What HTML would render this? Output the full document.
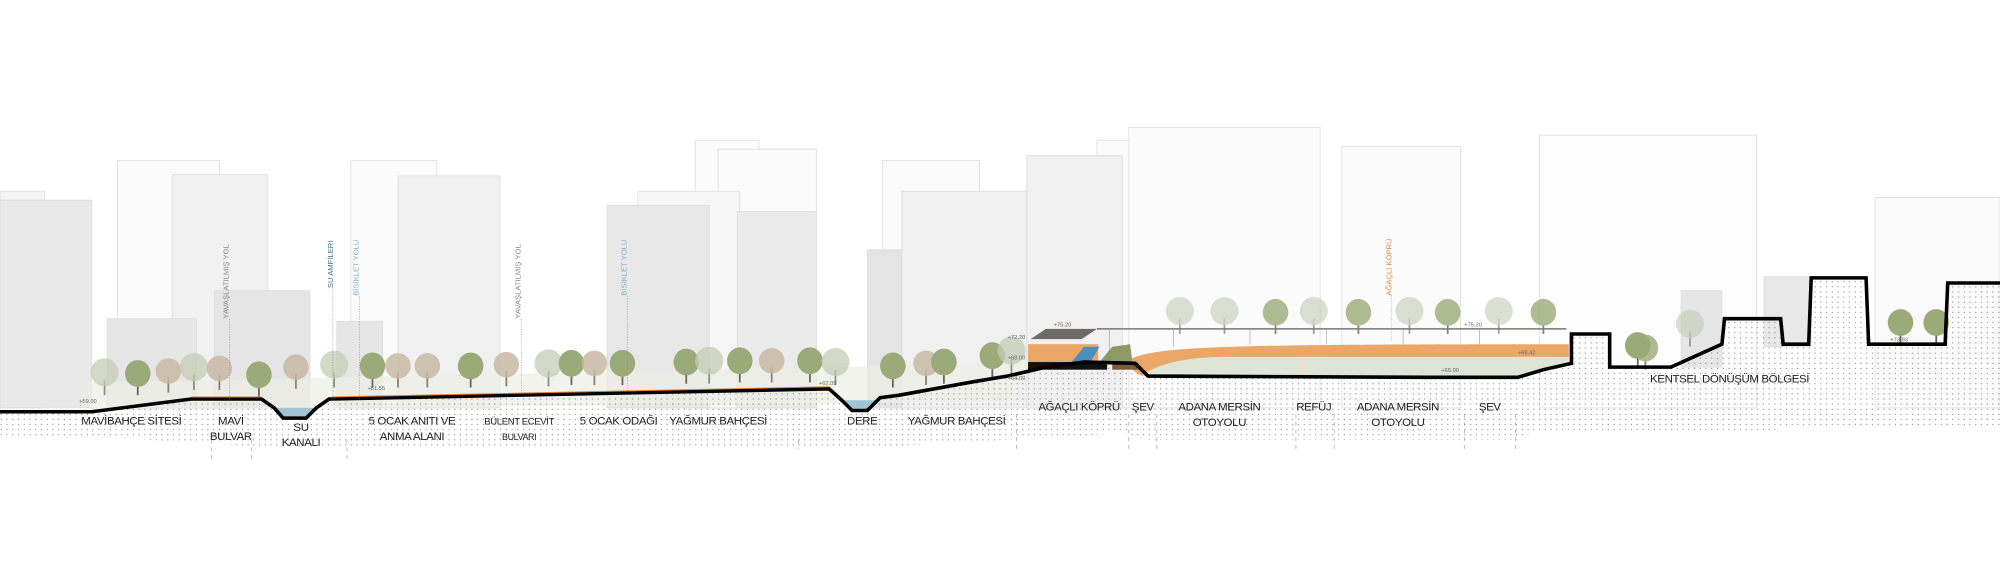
<!DOCTYPE html>
<html><head><meta charset="utf-8"><style>
html,body{margin:0;padding:0;background:#fff;width:2000px;height:566px;overflow:hidden}
svg{display:block}
text{font-family:"Liberation Sans",sans-serif;}
.lb{font-size:9px;fill:#222;text-anchor:middle;letter-spacing:-0.3px}
.el{font-size:4.5px;fill:#666}
.vt{font-size:6px}
</style></head><body>
<svg width="2000" height="566" viewBox="0 0 1568 444" preserveAspectRatio="none" xmlns="http://www.w3.org/2000/svg">
<defs>
<pattern id="dots" width="4.5" height="4" patternUnits="userSpaceOnUse"><circle cx="1" cy="1" r="0.45" fill="#777"/></pattern>
<g id="t1"><rect x="-0.7" y="-12" width="1.4" height="12" fill="#6b6656"/><ellipse cx="0" cy="-17" rx="10" ry="10.5" fill="#9aaa78"/></g>
<g id="t2"><rect x="-0.7" y="-12" width="1.4" height="12" fill="#8a7f70"/><ellipse cx="0" cy="-17" rx="10" ry="10" fill="#c9b9a5" opacity="0.85"/></g>
<g id="t3"><rect x="-0.7" y="-12" width="1.4" height="12" fill="#8d8d80"/><ellipse cx="0" cy="-18" rx="11" ry="11" fill="#c4cbb4" opacity="0.75"/></g>
</defs>
<!-- buildings -->
<g stroke="#dcdcdc" stroke-width="0.6">
<rect x="0" y="150" width="35" height="170" fill="#f4f4f4"/>
<rect x="92" y="126" width="80" height="194" fill="#fbfbfb"/>
<rect x="275" y="126" width="67" height="194" fill="#fbfbfb"/>
<rect x="545" y="110" width="50" height="210" fill="#fbfbfb"/>
<rect x="563" y="117" width="77" height="203" fill="#fbfbfb"/>
<rect x="500" y="150" width="80" height="170" fill="#f6f6f6"/>
<rect x="692" y="126" width="76" height="194" fill="#fbfbfb"/>
<rect x="860" y="110" width="82" height="210" fill="#fbfbfb"/>
<rect x="885" y="100" width="150" height="220" fill="#fbfbfb"/>
<rect x="1052" y="115" width="93" height="205" fill="#fbfbfb"/>
<rect x="1207" y="106" width="170" height="214" fill="#fcfcfc"/>
<rect x="1470" y="155" width="98" height="165" fill="#fafafa"/>
<rect x="0" y="157" width="72" height="163" fill="#e9e9e9"/>
<rect x="135" y="137" width="75" height="183" fill="#f1f1f1"/>
<rect x="168" y="228" width="75" height="92" fill="#e5e5e5"/>
<rect x="312" y="138" width="80" height="182" fill="#f0f0f0"/>
<rect x="84" y="250" width="70" height="70" fill="#e6e6e6"/>
<rect x="264" y="252" width="36" height="68" fill="#e6e6e6"/>
<rect x="476" y="161" width="80" height="159" fill="#e8e8e8"/>
<rect x="578" y="166" width="62" height="154" fill="#ebebeb"/>
<rect x="680" y="196" width="60" height="124" fill="#e4e4e4"/>
<rect x="707" y="150" width="115" height="170" fill="#f0f0f0"/>
<rect x="805" y="122" width="75" height="198" fill="#f0f0f0"/>
<rect x="1318" y="228" width="32" height="60" fill="#e6e6e6"/>
<rect x="1383" y="217" width="37" height="55" fill="#e8e8e8"/>
</g>
<!-- haze vegetation -->
<path d="M70 300 L800 285 L800 315 L70 322Z" fill="#eceee6" opacity="0.7"/>
<!-- background trees on bridge -->
<g opacity="0.8">
<use href="#t3" x="925" y="262"/><use href="#t3" x="960" y="262"/><use href="#t1" x="1000" y="262"/>
<use href="#t3" x="1030" y="262"/><use href="#t1" x="1065" y="262"/><use href="#t3" x="1105" y="262"/>
<use href="#t1" x="1135" y="262"/><use href="#t3" x="1175" y="262"/><use href="#t1" x="1210" y="262"/>
<use href="#t1" x="1290" y="290"/><use href="#t3" x="1325" y="272"/>
</g>
<!-- trees -->
<g>
<use href="#t3" x="82" y="310"/><use href="#t1" x="108" y="310"/><use href="#t2" x="132" y="308"/>
<use href="#t3" x="152" y="306"/><use href="#t2" x="172" y="306"/><use href="#t1" x="203" y="311"/>
<use href="#t2" x="232" y="305"/><use href="#t3" x="262" y="304"/><use href="#t1" x="292" y="304"/>
<use href="#t2" x="312" y="304"/><use href="#t2" x="335" y="304"/><use href="#t1" x="369" y="304"/>
<use href="#t2" x="397" y="303"/><use href="#t3" x="430" y="303"/><use href="#t1" x="448" y="302"/>
<use href="#t2" x="466" y="302"/><use href="#t1" x="488" y="302"/><use href="#t1" x="538" y="301"/>
<use href="#t3" x="556" y="301"/><use href="#t1" x="580" y="300"/><use href="#t2" x="605" y="300"/>
<use href="#t1" x="635" y="300"/><use href="#t3" x="655" y="302"/><use href="#t1" x="700" y="304"/>
<use href="#t2" x="726" y="302"/><use href="#t1" x="740" y="301"/><use href="#t1" x="778" y="296"/>
<use href="#t3" x="793" y="293"/>
<use href="#t1" x="1284" y="288"/>
<use href="#t1" x="1490" y="270"/><use href="#t1" x="1518" y="270"/>
</g>
<!-- dotted soil -->
<path d="M0 323 L72 323 L150 313 L205 313 L215 320 L222 328 L240 328 L248 320 L258 313 L650 305 L660 314 L668 322 L680 322 L690 312 L705 310 L760 300 L790 295 L820 288 L850 284 L890 285 L900 295 L1120 296 L1190 296 L1210 290 L1232 285 L1232 262 L1262 262 L1262 288 L1310 288 L1350 270 L1352 250 L1396 250 L1398 270 L1418 270 L1420 218 L1463 218 L1465 270 L1525 270 L1527 222 L1568 222 L1568 335 L1400 335 L1380 340 L1200 340 L1190 345 L900 345 L880 340 L700 350 L500 350 L300 352 L200 350 L100 344 L0 344Z" fill="url(#dots)"/>
<!-- channel water -->
<path d="M215 320 L222 328 L240 328 L248 320Z" fill="#9fc4d4"/>
<path d="M660 314 L668 322 L680 322 L690 314Z" fill="#9fc4d4"/>
<!-- bridge -->
<path d="M895 295 C 905 285, 930 280, 960 280 L1230 280 L1230 287 L1210 290 L1190 296 L900 295Z" fill="#dfe4d6"/>
<path d="M880 285 C 900 272, 930 270, 1230 270 L1230 280 L960 280 C 930 280, 905 286, 895 295Z" fill="#eba767"/>
<rect x="806" y="270" width="55" height="14" fill="#eba767"/>
<path d="M840 284 L850 272 L862 272 L855 284Z" fill="#4a8fc0"/>
<path d="M862 284 L872 272 L886 270 L888 285Z" fill="#8c9a6a"/>
<path d="M808 266 L820 258 L860 258 L848 266Z" fill="#6f6a6a"/>
<line x1="860" y1="258" x2="1228" y2="258" stroke="#777" stroke-width="1.2"/>
<g stroke="#888" stroke-width="0.4"><line x1="870" y1="258" x2="870" y2="284"/><line x1="920" y1="258" x2="920" y2="272"/><line x1="980" y1="258" x2="980" y2="270"/><line x1="1040" y1="258" x2="1040" y2="270"/><line x1="1100" y1="258" x2="1100" y2="270"/><line x1="1160" y1="258" x2="1160" y2="270"/></g>
<rect x="806" y="284" width="62" height="6" fill="#111"/>
<rect x="872" y="285" width="20" height="5" fill="#7b5a3b"/>
<rect x="1020" y="280" width="3" height="16" fill="#f3dccb"/>
<!-- ground line -->
<path d="M0 323 L72 323 L150 313 L205 313 L215 320 L222 328 L240 328 L248 320 L258 313 L650 305 L660 314 L668 322 L680 322 L690 312 L705 310 L760 300 L790 295 L820 288 L850 284 L890 285 L900 295 L1120 296 L1190 296 L1210 290 L1232 285 L1232 262 L1262 262 L1262 288 L1310 288 L1350 270 L1352 250 L1396 250 L1398 270 L1418 270 L1420 218 L1463 218 L1465 270 L1525 270 L1527 222 L1568 222" fill="none" stroke="#000" stroke-width="2.8" stroke-linejoin="miter"/>
<path d="M150 313 L205 313 M260 313 L650 305" stroke="#e07a2a" stroke-width="0.8" fill="none" transform="translate(0,-1.6)"/>
<!-- vertical labels -->
<g class="vt">
<line x1="180" y1="250" x2="180" y2="313" stroke="#888" stroke-width="0.4" stroke-dasharray="1,1"/>
<text transform="translate(179,250) rotate(-90)" fill="#888">YAVAŞLATILMIŞ YOL</text>
<line x1="261" y1="226" x2="261" y2="313" stroke="#888" stroke-width="0.4" stroke-dasharray="1,1"/>
<text transform="translate(261,226) rotate(-90)" fill="#3d6e92">SU AMFİLERİ</text>
<line x1="282" y1="232" x2="282" y2="313" stroke="#888" stroke-width="0.4" stroke-dasharray="1,1"/>
<text transform="translate(281,232) rotate(-90)" fill="#7ab0cc">BİSİKLET YOLU</text>
<line x1="409" y1="250" x2="409" y2="310" stroke="#888" stroke-width="0.4" stroke-dasharray="1,1"/>
<text transform="translate(408,250) rotate(-90)" fill="#888">YAVAŞLATILMIŞ YOL</text>
<line x1="492" y1="232" x2="492" y2="308" stroke="#888" stroke-width="0.4" stroke-dasharray="1,1"/>
<text transform="translate(491,232) rotate(-90)" fill="#7ab0cc">BİSİKLET YOLU</text>
<line x1="1091" y1="232" x2="1091" y2="268" stroke="#e08a3a" stroke-width="0.4" stroke-dasharray="1,1"/>
<text transform="translate(1091,232) rotate(-90)" fill="#e08a3a">AĞAÇLI KÖPRÜ</text>
</g>
<!-- elevations -->
<g class="el">
<text x="62" y="316">+59.00</text><text x="288" y="306">+61.55</text>
<text x="642" y="302">+62.05</text><text x="790" y="266">+72.20</text>
<text x="826" y="256">+75.20</text><text x="790" y="282">+68.00</text>
<text x="790" y="298">+64.00</text><text x="1148" y="256">+75.20</text>
<text x="1190" y="278">+68.42</text><text x="1130" y="292">+65.00</text><text x="1482" y="268">+73.93</text>
</g>
<!-- labels -->
<g class="lb">
<text x="103" y="333">MAVİBAHÇE SİTESİ</text>
<text x="181" y="333">MAVİ</text><text x="181" y="345">BULVAR</text>
<text x="236" y="338">SU</text><text x="236" y="350">KANALI</text>
<text x="323" y="333">5 OCAK ANITI VE</text><text x="323" y="345">ANMA ALANI</text>
<text x="407" y="333" style="font-size:7.5px">BÜLENT ECEVİT</text><text x="407" y="345" style="font-size:7px">BULVARI</text>
<text x="485" y="333">5 OCAK ODAĞI</text>
<text x="563" y="333">YAĞMUR BAHÇESİ</text>
<text x="676" y="333">DERE</text>
<text x="750" y="333">YAĞMUR BAHÇESİ</text>
<text x="846" y="322">AĞAÇLI KÖPRÜ</text>
<text x="896" y="322">ŞEV</text>
<text x="956" y="322">ADANA MERSİN</text><text x="956" y="334">OTOYOLU</text>
<text x="1030" y="322">REFÜJ</text>
<text x="1096" y="322">ADANA MERSİN</text><text x="1096" y="334">OTOYOLU</text>
<text x="1168" y="322">ŞEV</text>
<text x="1356" y="300">KENTSEL DÖNÜŞÜM BÖLGESİ</text>
</g>
<!-- tick marks -->
<g stroke="#999" stroke-width="0.5" stroke-dasharray="3,3">
<line x1="166" y1="345" x2="166" y2="362"/><line x1="197" y1="345" x2="197" y2="362"/>
<line x1="272" y1="345" x2="272" y2="362"/><line x1="626" y1="345" x2="626" y2="352"/>
<line x1="797" y1="325" x2="797" y2="352"/><line x1="885" y1="325" x2="885" y2="352"/>
<line x1="907" y1="325" x2="907" y2="352"/><line x1="1016" y1="325" x2="1016" y2="352"/>
<line x1="1046" y1="325" x2="1046" y2="352"/><line x1="1148" y1="325" x2="1148" y2="352"/>
<line x1="1188" y1="325" x2="1188" y2="352"/>
</g>
</svg>
</body></html>
